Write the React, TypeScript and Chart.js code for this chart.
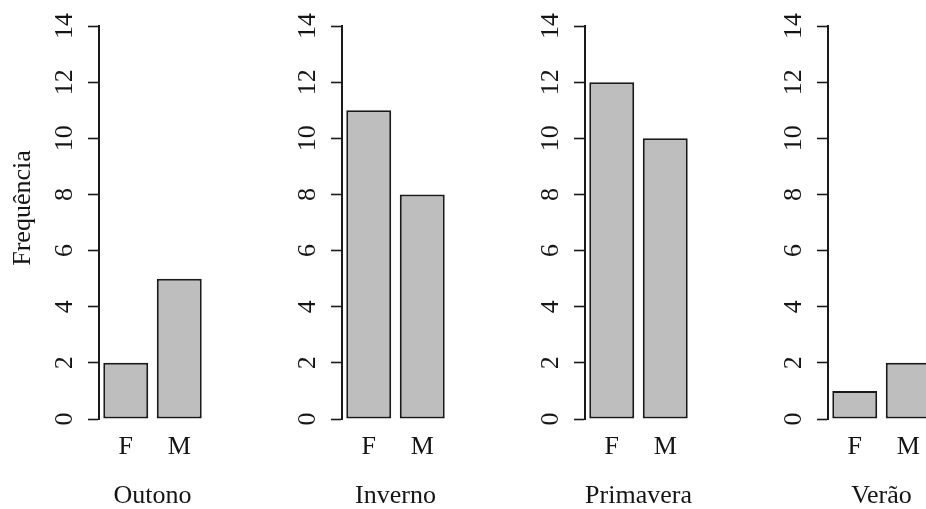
import React, { useEffect, useRef } from "react";
import { Chart, registerables } from "chart.js";

Chart.register(...registerables);

// Counts per season, split by sex
const seasons = ["Outono", "Inverno", "Primavera", "Verão"];
const sexLabels = ["F", "M"];
const femaleCounts = [2, 11, 12, 1];
const maleCounts = [5, 8, 10, 2];
const yTickValues = [0, 2, 4, 6, 8, 10, 12, 14];
const yAxisLabel = "Frequência";

const FONT = "'Liberation Serif', 'Times New Roman', serif";
const FONT_SIZE = 26;
const TEXT_COLOR = "#151515";
const LINE_COLOR = "#1a1a1a";
const PANEL_W = 243;
const PANEL_H = 509;

function Panel({ index }: { index: number }) {
  const ref = useRef<HTMLCanvasElement | null>(null);

  useEffect(() => {
    if (!ref.current) return;
    const values = [femaleCounts[index], maleCounts[index]];

    // y-axis caption, only on the first panel
    const yCaption = {
      id: "yCaption",
      afterDraw(chart: any) {
        if (index !== 0) return;
        const { ctx } = chart;
        ctx.save();
        ctx.translate(23, 208);
        ctx.rotate(-Math.PI / 2);
        ctx.font = `${FONT_SIZE}px ${FONT}`;
        ctx.fillStyle = TEXT_COLOR;
        ctx.textAlign = "center";
        ctx.textBaseline = "middle";
        ctx.fillText(yAxisLabel, 0, 0);
        ctx.restore();
      },
    };

    const chart = new Chart(ref.current, {
      type: "bar",
      data: {
        labels: sexLabels,
        datasets: [
          {
            data: values,
            backgroundColor: "#bebebe",
            borderColor: LINE_COLOR,
            borderWidth: 2,
            borderSkipped: false,
            categoryPercentage: 1,
            barPercentage: 0.84,
          },
        ],
      },
      options: {
        responsive: false,
        animation: false,
        events: [],
        layout: { padding: { left: 0, top: 26, right: 37, bottom: 0 } },
        plugins: {
          legend: { display: false },
          tooltip: { enabled: false },
        },
        scales: {
          x: {
            grid: { display: false, drawTicks: false },
            border: { display: false },
            ticks: {
              font: { family: FONT, size: FONT_SIZE },
              color: TEXT_COLOR,
              padding: 13,
            },
            title: {
              display: true,
              text: seasons[index],
              font: { family: FONT, size: FONT_SIZE },
              color: TEXT_COLOR,
              padding: { top: 0, bottom: -3 },
            },
            afterFit(s: any) {
              s.height = 90;
            },
          },
          y: {
            min: 0,
            max: 14,
            afterBuildTicks(s: any) {
              s.ticks = yTickValues.map((v) => ({ value: v }));
            },
            grid: {
              drawOnChartArea: false,
              tickLength: 11,
              tickColor: LINE_COLOR,
              tickWidth: 1.6,
            },
            border: { color: LINE_COLOR, width: 2 },
            ticks: {
              font: { family: FONT, size: FONT_SIZE },
              color: TEXT_COLOR,
              minRotation: 90,
              maxRotation: 90,
              crossAlign: "center",
              padding: 10,
            },
            afterFit(s: any) {
              s.width = 99;
            },
          },
        },
      },
      plugins: [yCaption],
    } as any);

    return () => chart.destroy();
  }, [index]);

  return (
    <div
      style={{
        position: "absolute",
        left: index * PANEL_W,
        top: 0,
        width: PANEL_W,
        height: PANEL_H,
      }}
    >
      <canvas ref={ref} width={PANEL_W} height={PANEL_H} style={{ display: "block" }} />
    </div>
  );
}

export default function App() {
  return (
    <div
      style={{
        position: "absolute",
        left: 0,
        top: 0,
        width: 926,
        height: PANEL_H,
        overflow: "hidden",
        background: "#ffffff",
      }}
    >
      {seasons.map((_, i) => (
        <Panel key={i} index={i} />
      ))}
    </div>
  );
}
